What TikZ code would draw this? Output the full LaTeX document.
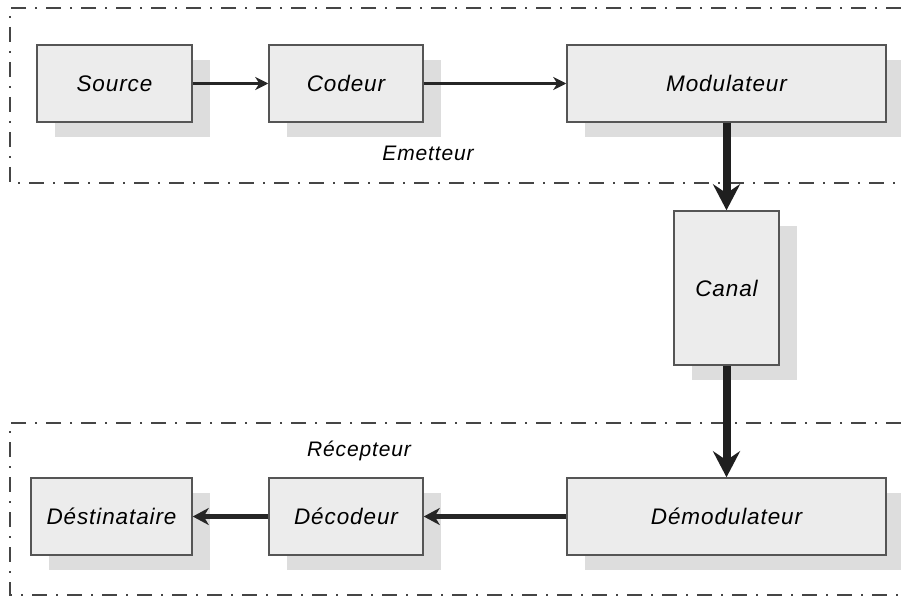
\documentclass[tikz,border=0pt]{standalone}
\usepackage{fontspec}
\setmainfont{Liberation Sans}
\newfontfamily\blockfont[LetterSpace=4]{Liberation Sans}
\usetikzlibrary{arrows.meta,shadows}
\definecolor{boxfill}{HTML}{ECECEC}
\definecolor{boxline}{HTML}{555555}
\definecolor{shadowgray}{HTML}{DDDDDD}
\definecolor{framegray}{HTML}{454545}
\tikzset{
  block/.style={draw=boxline, line width=1.5pt, fill=boxfill, inner sep=0pt,
    font=\blockfont\fontsize{22.5}{26}\selectfont\itshape,
    drop shadow={shadow xshift=18pt, shadow yshift=-15pt, fill=shadowgray, opacity=1}},
  frame/.style={draw=framegray, line width=1.3pt, dash pattern=on 15pt off 9pt on 2pt off 9pt},
  thinarrow/.style={line width=2.6pt, draw=black!85, -{Stealth[length=13pt,width=13pt,inset=4pt]}},
  midarrow/.style={line width=4.5pt, draw=black!85, -{Stealth[length=16pt,width=17pt,inset=5pt]}},
  thickarrow/.style={line width=8pt, draw=black!88, -{Stealth[length=26pt,width=27pt,inset=9pt]}},
  grouplabel/.style={font=\blockfont\fontsize{21}{24}\selectfont\itshape}
}
\begin{document}
\begin{tikzpicture}[x=1pt,y=-1pt]
\useasboundingbox (0,0) rectangle (901,596);
\fill[white] (0,0) rectangle (901,596);

% transmitter and receiver frames (open on the right)
\draw[frame] (901,8) -- (10,8) -- (10,183) -- (901,183);
\draw[frame] (901,423) -- (10,423) -- (10,595) -- (901,595);

% blocks
\node[block, minimum width=155pt, minimum height=77pt] (src) at (114.5,83.5) {Source};
\node[block, minimum width=154pt, minimum height=77pt] (cod) at (346,83.5) {Codeur};
\node[block, minimum width=319pt, minimum height=77pt] (mod) at (726.5,83.5) {Modulateur};
\node[block, minimum width=105pt, minimum height=154pt] (can) at (726.5,288) {Canal};
\node[block, minimum width=319pt, minimum height=77pt] (dem) at (726.5,516.5) {Démodulateur};
\node[block, minimum width=154pt, minimum height=77pt] (dec) at (346,516.5) {Décodeur};
\node[block, minimum width=161pt, minimum height=77pt] (dst) at (111.5,516.5) {Déstinataire};

% group labels
\node[grouplabel] (emt) at (428,153) {Emetteur};
\node[grouplabel] (rec) at (359,451) {Récepteur};

% connections
\draw[thinarrow] (src.east) -- (cod.west);
\draw[thinarrow] (cod.east) -- (mod.west);
\draw[thickarrow] (mod.south) -- (can.north);
\draw[thickarrow] (can.south) -- (dem.north);
\draw[midarrow] (dem.west) -- (dec.east);
\draw[midarrow] (dec.west) -- (dst.east);
\end{tikzpicture}
\end{document}
